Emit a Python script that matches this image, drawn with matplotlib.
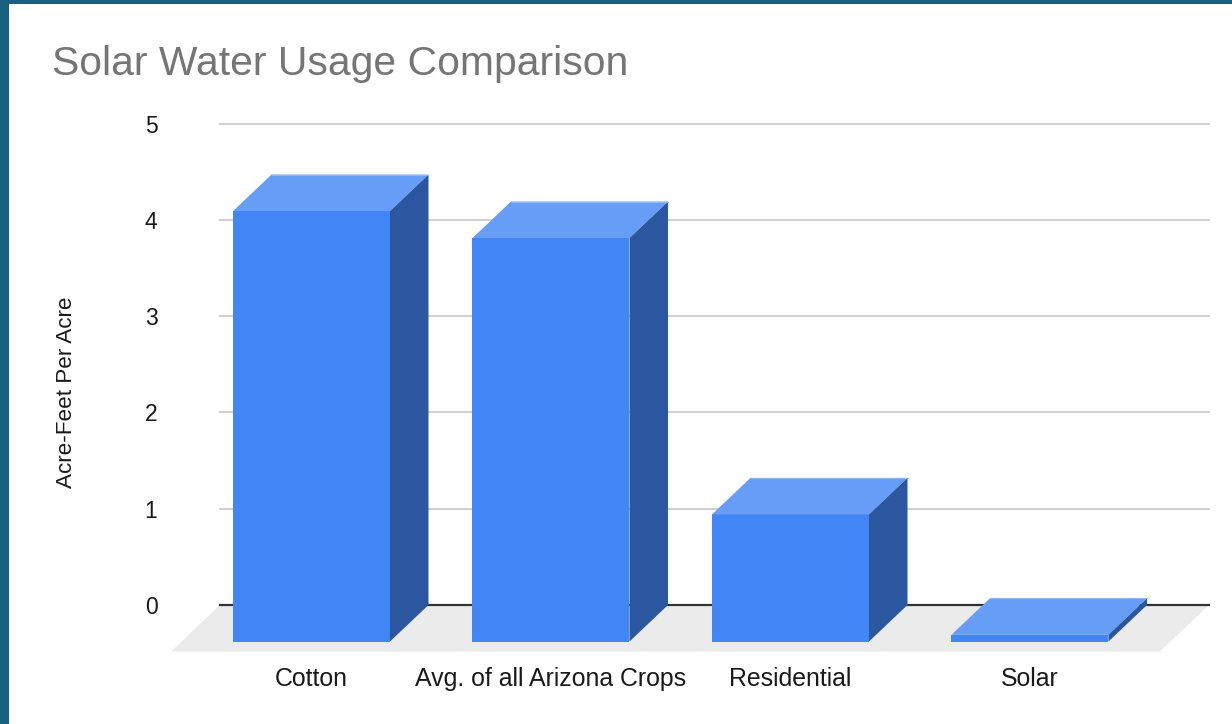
import numpy as np
import matplotlib
matplotlib.use("Agg")
import matplotlib.pyplot as plt
from matplotlib.patches import Polygon, Rectangle

plt.rcParams['font.family'] = ['Liberation Sans', 'DejaVu Sans']

# ---- data ----
categories = ["Cotton", "Avg. of all Arizona Crops", "Residential", "Solar"]
values = [4.47, 4.19, 1.32, 0.07]
yticks = [0, 1, 2, 3, 4, 5]
title = "Solar Water Usage Comparison"
ylabel = "Acre-Feet Per Acre"

# ---- style ----
W, H = 1232, 724
front_c = "#4285f4"
top_c = "#669df6"
side_c = "#2b57a1"
floor_c = "#ebebeb"
frame_c = "#185f82"

fig = plt.figure(figsize=(W / 100, H / 100), dpi=100)
fig.patch.set_facecolor("white")

# axes placement (pixels)
left_px, right_px = 220, 1209
bottom_px, top_px = 651.5, 121.6
ax = fig.add_axes([left_px / W, 1 - bottom_px / H,
                   (right_px - left_px) / W, (bottom_px - top_px) / H])
ax.set_facecolor("none")

x = np.arange(len(categories))
xmin, xmax = -0.5428, 3.5866
ymin, ymax = -0.483, 5.02
ax.set_xlim(xmin, xmax)
ax.set_ylim(ymin, ymax)

w = 0.6555      # bar width (category units)
dx = 0.1608     # depth shift in x (category units)
dy = 0.3794     # depth shift in y (value units)
fdx, fdy = 0.2046, 0.483  # floor depth

# floor
ax.add_patch(Polygon([(xmin, 0), (xmax, 0), (xmax - fdx, -fdy), (xmin - fdx, -fdy)],
                     closed=True, facecolor=floor_c, edgecolor="none",
                     zorder=0, clip_on=False))

# gridlines
for t in yticks[1:]:
    ax.axhline(t, color="#cccccc", lw=1.3, zorder=1, clip_on=False)
ax.axhline(0, color="#333333", lw=1.6, zorder=1.5, clip_on=False)

# front faces
ax.bar(x - dx, values, width=w, bottom=-dy, color=front_c, edgecolor="none", zorder=3)
for xi, v in zip(x, values):
    xl = xi - dx - w / 2
    xr = xi - dx + w / 2
    # top face
    ax.add_patch(Polygon([(xl, v - dy), (xr, v - dy), (xr + dx, v), (xl + dx, v)],
                         closed=True, facecolor=top_c, edgecolor="none", zorder=3,
                         clip_on=False))
    ax.plot([xl + dx, xr + dx], [v, v], color="#8fb6f8", lw=0.8, zorder=3.2)
    # side face
    ax.add_patch(Polygon([(xr, -dy), (xr + dx, 0), (xr + dx, v), (xr, v - dy)],
                         closed=True, facecolor=side_c, edgecolor="none", zorder=3,
                         clip_on=False))

# ticks
ax.set_xticks(x - dx)
ax.set_xticklabels(categories, fontsize=17.9, color="#1a1a1a")
ax.set_yticks(yticks)
ax.set_yticklabels([str(t) for t in yticks], fontsize=16.5, color="#1a1a1a")
ax.tick_params(axis="x", length=0, pad=11.5)
ax.tick_params(axis="y", length=0, pad=45)
for s in ax.spines.values():
    s.set_visible(False)

# title and y label
fig.text(52 / W, 1 - 64 / H, title, fontsize=29.4, color="#757575",
         ha="left", va="center")
fig.text(66 / W, 1 - 392.5 / H, ylabel, fontsize=16.2, color="#1a1a1a",
         rotation=90, ha="center", va="center")

# frame (left and top band)
fig.patches.append(Rectangle((0, 0), 9 / W, 1, transform=fig.transFigure,
                             facecolor=frame_c, edgecolor="none", zorder=10))
fig.patches.append(Rectangle((0, 1 - 4 / H), 1, 4 / H, transform=fig.transFigure,
                             facecolor=frame_c, edgecolor="none", zorder=10))

fig.savefig("out.png", dpi=100)
